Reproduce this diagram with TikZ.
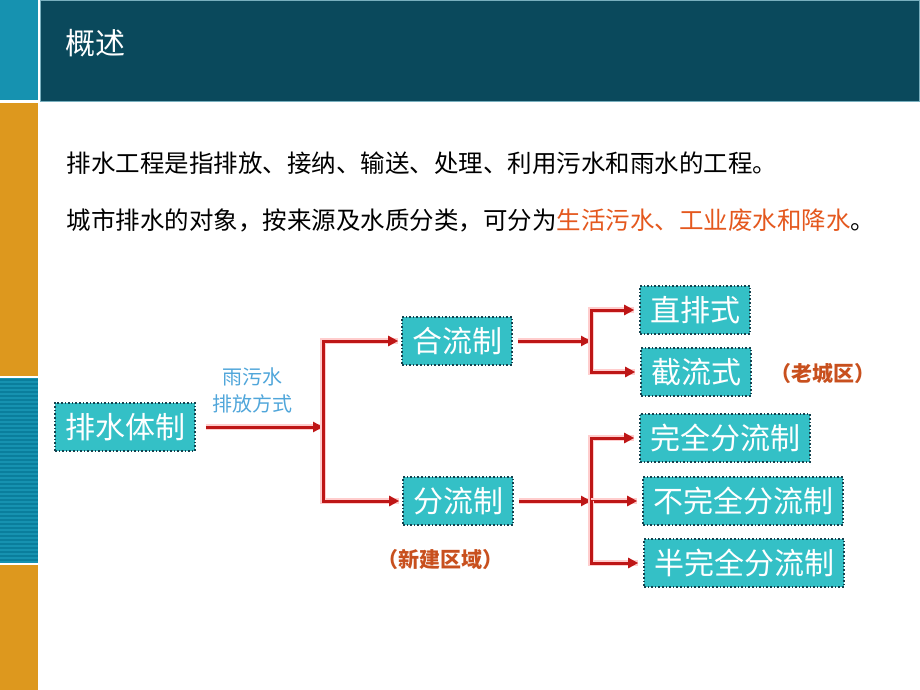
\documentclass[tikz,border=0pt]{standalone}
\usepackage{fontspec}
\setmainfont{Noto Sans CJK SC}
\usetikzlibrary{arrows.meta}
\definecolor{barteal}{RGB}{22,146,176}
\definecolor{barstripe}{RGB}{10,126,156}
\definecolor{barorange}{RGB}{221,152,30}
\definecolor{headteal}{RGB}{10,73,92}
\definecolor{headedge}{RGB}{120,175,190}
\definecolor{boxfill}{RGB}{52,192,198}
\definecolor{boxline}{RGB}{20,66,78}
\definecolor{arrred}{RGB}{190,22,22}
\definecolor{glowred}{RGB}{255,205,205}
\definecolor{labblue}{RGB}{80,166,218}
\definecolor{notebrown}{RGB}{200,80,30}
\definecolor{hlred}{RGB}{228,88,30}
\begin{document}
\begin{tikzpicture}[x=1pt,y=-1pt,
  kind/.style={fill=boxfill,draw=boxline,dotted,line width=1.6pt,text=white,
    font=\fontsize{30}{30}\selectfont,inner xsep=10pt,minimum height=48pt},
  arr/.style={draw=arrred,line width=3pt,-{Triangle[length=10pt,width=10pt]},
    preaction={draw=glowred,line width=6pt,-}},
  note/.style={text=notebrown,font=\fontsize{21}{21}\selectfont\bfseries}]
\useasboundingbox (0,0) rectangle (920,690);
% side bar and title
\fill[barteal] (0,0) rectangle (38,100);
\fill[barorange] (0,103) rectangle (38,376);
\fill[barteal] (0,378) rectangle (38,563);
\foreach \y in {380,384,...,560} \draw[barstripe,line width=1.5pt] (0,\y) -- (38,\y);
\fill[barorange] (0,565) rectangle (38,690);
\filldraw[fill=headteal,draw=headedge,line width=1pt] (40,0.5) rectangle (919.5,102);
\node[anchor=west,text=white,font=\fontsize{30}{30}\selectfont] (title) at (62,43) {概述};
% text
\node[anchor=west,font=\fontsize{24.5}{24.5}\selectfont] (line1) at (63,163)
  {排水工程是指排放、接纳、输送、处理、利用污水和雨水的工程。};
\node[anchor=west,font=\fontsize{24.5}{24.5}\selectfont] (line2) at (63,220)
  {城市排水的对象，按来源及水质分类，可分为\textcolor{hlred}{生活污水、工业废水和降水}。};
% boxes
\node[kind] (tizhi) at (125,427) {排水体制};
\node[kind] (heliu) at (457,341) {合流制};
\node[kind] (fenliu) at (458,501) {分流制};
\node[kind] (zhipai) at (695,310) {直排式};
\node[kind] (jieliu) at (696,372) {截流式};
\node[kind] (wanquan) at (725,438) {完全分流制};
\node[kind] (buwan) at (743,501) {不完全分流制};
\node[kind] (banwan) at (744,563) {半完全分流制};
\node[text=labblue,align=center,font=\fontsize{20}{27}\selectfont] (way) at (252,390) {雨污水\\排放方式};
\node[note] (old) at (823,373) {（老城区）};
\node[note] (new) at (440,560) {（新建区域）};
% arrows
\coordinate (j1) at (323,427);
\coordinate (j2) at (591,341);
\coordinate (j3) at (591,501);
\draw[arr,shorten <=10pt] (tizhi) -- (j1);
\draw[arr,shorten >=3pt] (j1) |- (heliu.west);
\draw[arr,shorten >=3pt] (j1) |- (fenliu.west);
\draw[arr,shorten <=5pt] (heliu) -- (j2);
\draw[arr,shorten >=5pt] (j2) |- (zhipai.west);
\draw[arr,shorten >=5pt] (j2) |- (jieliu.west);
\draw[arr,shorten <=5pt] (fenliu) -- (j3);
\draw[arr,shorten >=5pt] (j3) |- (wanquan.west);
\draw[arr,shorten >=5pt] (j3) -- (buwan.west);
\draw[arr,shorten >=5pt] (j3) |- (banwan.west);
\end{tikzpicture}
\end{document}
